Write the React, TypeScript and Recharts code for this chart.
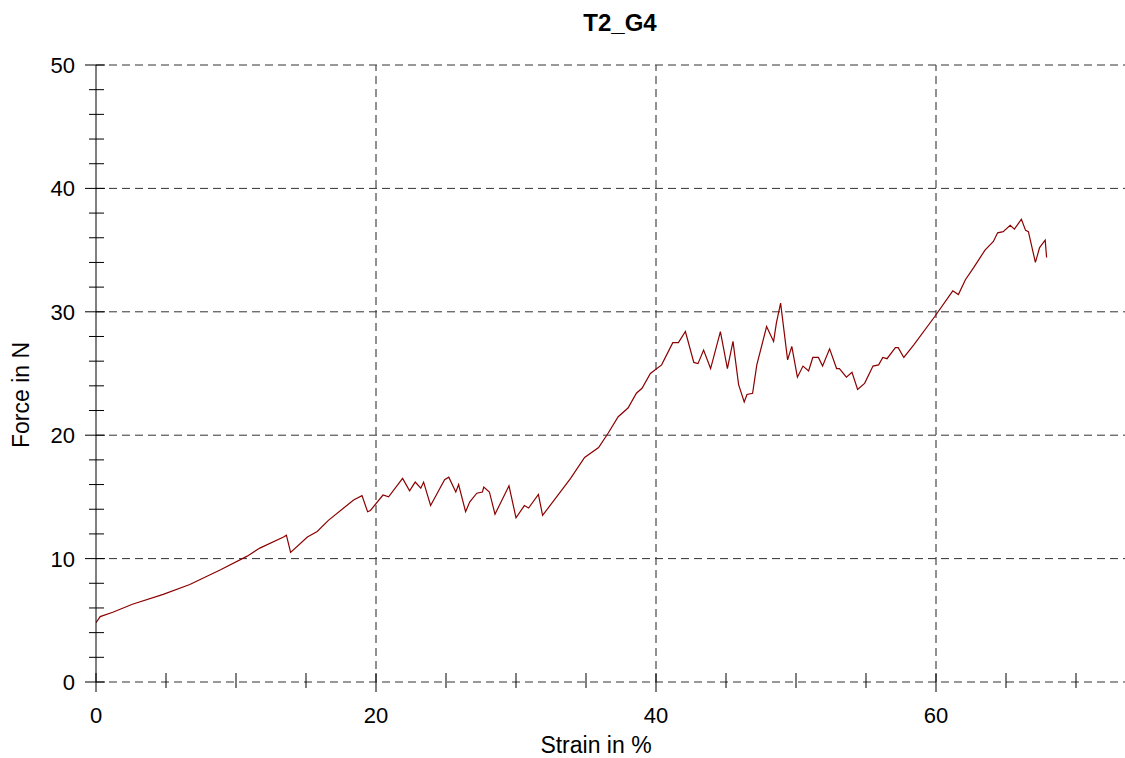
import { LineChart, Line, XAxis, YAxis, CartesianGrid, ReferenceLine } from "recharts";

const strain = [
  0, 0.3, 1.2, 2.6, 4.8, 6.7, 8.9, 10.8, 11.7, 13.4, 13.6, 13.9, 15.1, 15.8, 16.6, 18.4, 19.0, 19.4, 19.6,
  20.5, 20.9, 21.9, 22.4, 22.8, 23.2, 23.4, 23.9, 24.9, 25.2, 25.7, 25.9, 26.4, 26.7, 27.2, 27.6, 27.7,
  28.1, 28.5, 29.0, 29.5, 30.0, 30.6, 30.9, 31.6, 31.9, 33.9, 34.9, 35.9, 36.6, 37.3, 38.0, 38.6, 39.0,
  39.6, 40.4, 41.2, 41.6, 42.1, 42.7, 43.0, 43.4, 43.9, 44.6, 45.1, 45.5, 45.9, 46.3, 46.5, 46.9, 47.2,
  47.9, 48.4, 48.6, 48.9, 49.4, 49.7, 50.1, 50.5, 50.9, 51.2, 51.6, 51.9, 52.4, 52.9, 53.1, 53.6, 54.0,
  54.4, 54.9, 55.5, 55.9, 56.2, 56.5, 57.1, 57.3, 57.7, 58.4, 59.9, 61.2, 61.6, 62.1, 62.7, 63.5, 64.1,
  64.4, 64.8, 65.3, 65.6, 66.1, 66.4, 66.6, 67.1, 67.4, 67.8, 67.9,
];

const force = [
  4.8, 5.3, 5.65, 6.3, 7.1, 7.9, 9.1, 10.2, 10.85, 11.75, 11.9, 10.5, 11.75, 12.2, 13.1, 14.75, 15.1, 13.8, 13.9,
  15.15, 15.0, 16.5, 15.5, 16.2, 15.7, 16.2, 14.3, 16.4, 16.6, 15.4, 16.0, 13.8, 14.6, 15.3, 15.4, 15.8,
  15.4, 13.6, 14.75, 15.9, 13.3, 14.3, 14.1, 15.2, 13.5, 16.5, 18.2, 19.0, 20.2, 21.5, 22.2, 23.4, 23.8,
  25.0, 25.7, 27.5, 27.5, 28.4, 25.9, 25.8, 26.9, 25.4, 28.4, 25.4, 27.6, 24.1, 22.7, 23.3, 23.4, 25.7,
  28.8, 27.6, 29.1, 30.7, 26.1, 27.2, 24.7, 25.6, 25.2, 26.3, 26.3, 25.6, 27.0, 25.4, 25.4, 24.7, 25.1,
  23.7, 24.2, 25.6, 25.7, 26.3, 26.2, 27.1, 27.1, 26.3, 27.3, 29.6, 31.7, 31.4, 32.6, 33.6, 35.0, 35.7,
  36.4, 36.5, 37.0, 36.7, 37.5, 36.6, 36.5, 34.0, 35.2, 35.8, 34.4,
];

const xTicks = [0, 5, 10, 15, 20, 25, 30, 35, 40, 45, 50, 55, 60, 65, 70];
const yTicks = [0, 2, 4, 6, 8, 10, 12, 14, 16, 18, 20, 22, 24, 26, 28, 30, 32, 34, 36, 38, 40, 42, 44, 46, 48, 50];
const xGrid = [20, 40, 60];
const yGrid = [0, 10, 20, 30, 40, 50];

const data = strain.map((s, i) => ({ strain: s, force: force[i] }));

const font = "'Liberation Sans', Arial, sans-serif";

// x ticks cross the axis, every 20 gets a label
const XTick = (props: any) => {
  const { x, y, payload } = props;
  const major = payload.value % 20 === 0;
  return (
    <g>
      <line x1={x} x2={x} y1={y - 9} y2={y + (major ? 10 : 6)} stroke="#000" strokeWidth={1} />
      {major && (
        <text x={x} y={y + 41} textAnchor="middle" fontSize={22} fontFamily={font} fill="#000">
          {payload.value}
        </text>
      )}
    </g>
  );
};

const YTick = (props: any) => {
  const { x, y, payload } = props;
  const major = payload.value % 10 === 0;
  return (
    <g>
      <line x1={x - (major ? 11 : 7)} x2={x + (major ? 9 : 8)} y1={y} y2={y} stroke="#000" strokeWidth={1} />
      {major && (
        <text x={x - 21} y={y + 8} textAnchor="end" fontSize={22} fontFamily={font} fill="#000">
          {payload.value}
        </text>
      )}
    </g>
  );
};

export default function App() {
  return (
    <div style={{ position: "absolute", left: 0, top: 0, width: 1125, height: 758, background: "#fff" }}>
      <LineChart width={1125} height={758} data={data} margin={{ top: 65, right: 0, left: 0, bottom: 0 }}>
        <CartesianGrid stroke="none" />
        {xGrid.map((v) => (
          <ReferenceLine key={"x" + v} x={v} stroke="#222" strokeDasharray="8 5" />
        ))}
        {yGrid.map((v) => (
          <ReferenceLine key={"y" + v} y={v} stroke="#333" strokeDasharray="8 5" />
        ))}
        <XAxis
          dataKey="strain"
          type="number"
          domain={[0, 73.5]}
          ticks={xTicks}
          interval={0}
          height={76}
          axisLine={false}
          tickLine={false}
          tickSize={0}
          tickMargin={0}
          tick={<XTick />}
          allowDataOverflow
        />
        <YAxis
          type="number"
          domain={[0, 50]}
          ticks={yTicks}
          interval={0}
          width={96}
          axisLine={{ stroke: "#000", strokeWidth: 1 }}
          tickLine={false}
          tickSize={0}
          tickMargin={0}
          tick={<YTick />}
        />
        <Line
          dataKey="force"
          type="linear"
          stroke="#8b0000"
          strokeWidth={1.2}
          dot={false}
          isAnimationActive={false}
        />
        <text x={620} y={31} textAnchor="middle" fontSize={24} fontWeight="bold" fontFamily={font} fill="#000">
          T2_G4
        </text>
        <text x={596} y={753} textAnchor="middle" fontSize={23} fontFamily={font} fill="#000">
          Strain in %
        </text>
        <text
          x={29}
          y={395}
          textAnchor="middle"
          fontSize={23}
          fontFamily={font}
          fill="#000"
          transform="rotate(-90 29 395)"
        >
          Force in N
        </text>
      </LineChart>
    </div>
  );
}
